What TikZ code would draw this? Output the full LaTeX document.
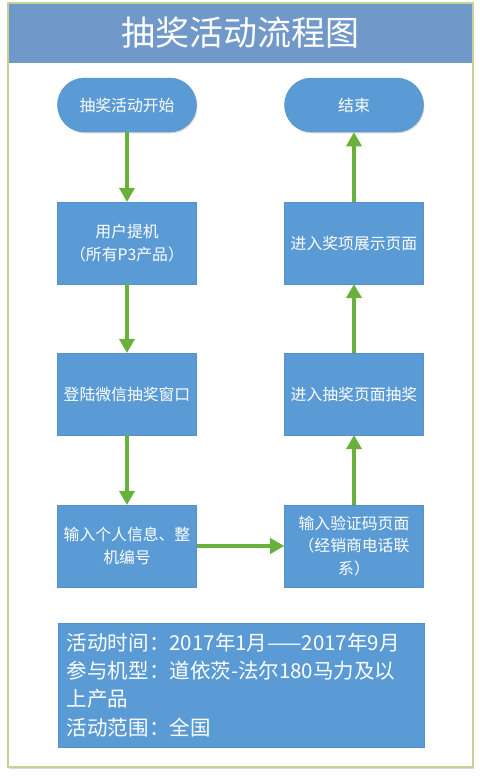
\documentclass[tikz,border=0pt]{standalone}
\usepackage{fontspec}
\setmainfont{Noto Sans CJK SC}
\usetikzlibrary{arrows.meta,shadows}
\definecolor{frame}{HTML}{C2D39A}
\definecolor{head}{HTML}{7099C9}
\definecolor{boxfill}{HTML}{5B9BD5}
\definecolor{boxline}{HTML}{5592CC}
\definecolor{flow}{HTML}{6AB03C}
\tikzset{
  stepbox/.style={draw=boxline, fill=boxfill, text=white, align=center, inner sep=2pt,
    minimum width=4.17cm, minimum height=2.45cm, font=\fontsize{13.5}{19}\selectfont,
    drop shadow={opacity=0.3, shadow xshift=0.8pt, shadow yshift=-1.2pt}},
  term/.style={stepbox, minimum height=1.62cm, rounded corners=0.81cm},
  infobox/.style={stepbox, align=left, minimum width=10.98cm, minimum height=3.72cm,
    text width=10.44cm, inner xsep=0.27cm, font=\fontsize{17.5}{24}\selectfont},
  flowarrow/.style={-{Triangle[length=12pt,width=13pt]}, draw=flow, line width=2.6pt},
}

\begin{document}
\begin{tikzpicture}[x=0.03cm,y=-0.03cm]
  \useasboundingbox (0,0) rectangle (480,781);
  % frame and title band
  \draw[frame, line width=1.5pt, fill=white, drop shadow={opacity=0.3, shadow xshift=1pt, shadow yshift=-1.5pt}] (8,3) rectangle (473,767);
  \fill[head] (9,4) rectangle (472,63);
  \node[text=white, font=\fontsize{29}{34}\selectfont] (title) at (240.5,33) {抽奖活动流程图};

  % left column
  \node[term] (start) at (127,105) {抽奖活动开始};
  \node[stepbox] (lift) at (127,243) {用户提机\\（所有P3产品）};
  \node[stepbox] (login) at (127,394) {登陆微信抽奖窗口};
  \node[stepbox] (info) at (127,546) {输入个人信息、整\\机编号};
  % right column
  \node[stepbox] (code) at (354,546) {输入验证码页面\\（经销商电话联\\系）};
  \node[stepbox] (draw) at (354,394) {进入抽奖页面抽奖};
  \node[stepbox] (prize) at (354,243) {进入奖项展示页面};
  \node[term] (finish) at (354,105) {结束};

  \node[infobox] (note) at (241,685) {活动时间：2017年1月——2017年9月\\参与机型：道依茨-法尔180马力及以\\上产品\\活动范围：全国};

  \draw[flowarrow] (start) -- (lift);
  \draw[flowarrow] (lift) -- (login);
  \draw[flowarrow] (login) -- (info);
  \draw[flowarrow] (info) -- (code);
  \draw[flowarrow] (code) -- (draw);
  \draw[flowarrow] (draw) -- (prize);
  \draw[flowarrow] (prize) -- (finish);
\end{tikzpicture}
\end{document}
